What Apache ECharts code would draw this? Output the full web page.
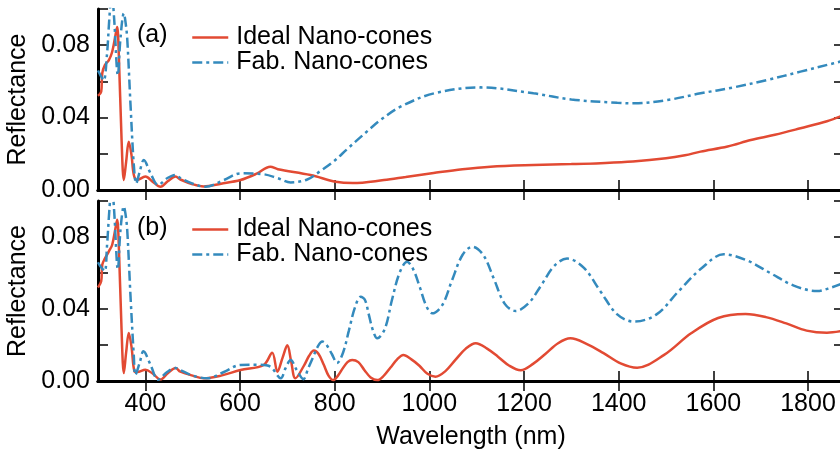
<!DOCTYPE html>
<html><head><meta charset="utf-8">
<script src="https://cdn.jsdelivr.net/npm/echarts@6/dist/echarts.min.js"></script>
<style>html,body{margin:0;padding:0;background:#fff}#c{width:840px;height:455px}</style>
</head><body><div id="c"></div>
<script>
// ---- data (wavelength nm, reflectance) ----
const seriesNames = ['Ideal Nano-cones', 'Fab. Nano-cones'];
const panelLabels = ['(a)', '(b)'];
const xTicks = [400, 600, 800, 1000, 1200, 1400, 1600, 1800];
const yTicks = [0, 0.02, 0.04, 0.06, 0.08, 0.1];
const yLabels = [0, 0.04, 0.08];

const idealA = [[300,0.052],[306.7,0.0543],[309,0.0645],[314.5,0.069],[323,0.0718],[330,0.0764],[337,0.0856],[340.5,0.090],[344,0.0746],[349.7,0.0286],[354.6,0.0055],[359.5,0.0157],[365,0.0267],[370.8,0.0193],[375.7,0.0083],[382.8,0.0055],[400,0.0074],[416,0.0045],[432,0.0018],[448,0.005],[463.7,0.0074],[474,0.0058],[500,0.0032],[523,0.002],[560,0.0035],[601,0.0055],[635,0.009],[664,0.0129],[680,0.0115],[749,0.0083],[802,0.0046],[838,0.0038],[904,0.0055],[950,0.0072],[1009,0.0094],[1070,0.0115],[1129,0.0129],[1220,0.0138],[1300,0.0143],[1362,0.0148],[1430,0.0157],[1500,0.0175],[1540,0.0192],[1573,0.0212],[1630,0.024],[1679,0.0276],[1730,0.0305],[1784,0.0341],[1840,0.038],[1876,0.0415]];

const fabA = [[300,0.066],[305,0.0635],[312,0.0605],[319,0.075],[324,0.095],[329,0.11],[334,0.095],[342,0.0635],[347.5,0.084],[354.6,0.0976],[358,0.093],[361.7,0.0838],[368.7,0.047],[375.7,0.0138],[380.7,0.0037],[388,0.01],[396.8,0.0166],[411,0.0092],[427,0.0028],[446,0.0065],[463.7,0.0083],[474,0.0066],[500,0.0035],[527,0.0018],[566,0.0055],[601,0.0092],[650,0.0087],[680,0.0065],[707,0.0042],[742,0.0058],[770,0.0105],[798,0.0158],[826,0.0225],[869,0.0325],[897,0.0387],[939,0.046],[1010,0.0534],[1108,0.0567],[1220,0.0534],[1300,0.050],[1397,0.0482],[1432,0.0479],[1503,0.0497],[1573,0.0534],[1643,0.0567],[1714,0.0608],[1784,0.0654],[1854,0.070],[1876,0.0715]];

const idealB = [[300,0.052],[306.7,0.0554],[309,0.0646],[314.5,0.068],[323,0.072],[330,0.0757],[337,0.085],[340.5,0.0896],[344,0.075],[349.7,0.029],[354.6,0.0044],[359.5,0.016],[365,0.0267],[370.8,0.019],[377,0.0054],[383,0.005],[400,0.0063],[416,0.004],[432,0.0008],[448,0.0045],[464,0.0072],[474,0.0052],[500,0.003],[523,0.0015],[560,0.003],[601,0.0061],[650,0.0089],[668,0.0157],[679,0.0052],[690,0.013],[700,0.0198],[708,0.011],[717,0.0015],[736,0.009],[746,0.014],[756,0.0169],[766,0.015],[777,0.009],[787,0.003],[797,0.0005],[807,0.003],[817,0.007],[827,0.0105],[837,0.0117],[850,0.0105],[863,0.006],[876,0.002],[890,0.0005],[904,0.003],[918,0.0075],[932,0.012],[945,0.0144],[962,0.012],[979,0.0085],[996,0.004],[1013,0.0024],[1034,0.0055],[1055,0.0117],[1077,0.018],[1098,0.021],[1122,0.018],[1145,0.0135],[1169,0.0085],[1193,0.006],[1219,0.0095],[1245,0.015],[1272,0.021],[1298,0.0237],[1333,0.0205],[1368,0.0155],[1404,0.0098],[1439,0.0074],[1496,0.0145],[1553,0.0265],[1610,0.035],[1668,0.0372],[1711,0.0355],[1754,0.032],[1797,0.028],[1840,0.0268],[1876,0.028]];

const fabB = [[300,0.066],[305,0.0637],[314,0.061],[319,0.075],[324,0.095],[329,0.11],[334,0.095],[342,0.062],[347.5,0.084],[354.6,0.097],[358,0.093],[361.7,0.084],[368.7,0.047],[375.7,0.0138],[379,0.0035],[388,0.01],[396,0.0165],[411,0.009],[427,0.0007],[446,0.005],[464,0.0072],[474,0.0061],[500,0.003],[531,0.0015],[566,0.005],[601,0.0089],[640,0.009],[664,0.008],[686,0.0015],[696,0.007],[707,0.0117],[720,0.006],[734,0.001],[744,0.007],[754,0.013],[764,0.019],[774,0.0219],[783,0.02],[794,0.015],[805,0.01],[818,0.016],[830,0.028],[843,0.041],[855,0.0468],[864,0.045],[872,0.037],[881,0.028],[890,0.0237],[906,0.029],[921,0.045],[937,0.06],[953,0.0663],[966,0.062],[980,0.052],[993,0.042],[1006,0.0376],[1027,0.042],[1048,0.056],[1070,0.07],[1091,0.0746],[1114,0.07],[1136,0.057],[1159,0.043],[1182,0.0389],[1209,0.043],[1236,0.053],[1264,0.064],[1291,0.068],[1326,0.063],[1362,0.0496],[1397,0.037],[1432,0.033],[1480,0.037],[1527,0.05],[1575,0.0626],[1622,0.0704],[1671,0.067],[1720,0.06],[1770,0.053],[1819,0.05],[1850,0.052],[1876,0.0545]];

// ---- style ----
const RED = '#E24A33', BLUE = '#348ABD';
const FONT = 'Liberation Sans';
const FS = 25;
const XMIN = 300, XMAX = 1876;
const grids = [
  {left: 98, right: -4, top: 9, height: 181, outerBoundsMode: 'none', containLabel: false},
  {left: 98, right: -4, top: 201, height: 180, outerBoundsMode: 'none', containLabel: false}
];

const chart = echarts.init(document.getElementById('c'), null, {renderer: 'canvas'});
const axLine = {show: true, lineStyle: {color: '#000', width: 3}};
const tick = (vals) => ({show: true, inside: true, length: 10, lineStyle: {color: '#000', width: 1.5}, customValues: vals});

const xAxes = [], yAxes = [];
for (let g = 0; g < 2; g++) {
  xAxes.push({type: 'value', gridIndex: g, min: XMIN, max: XMAX, position: 'bottom',
    axisLine: axLine, axisTick: tick(xTicks), splitLine: {show: false},
    axisLabel: {show: g === 1, customValues: xTicks, color: '#000', fontFamily: FONT, fontSize: FS, margin: 11,
      formatter: v => String(v)},
    name: g === 1 ? 'Wavelength (nm)' : '', nameLocation: 'middle', nameGap: 44,
    nameTextStyle: {color: '#000', fontFamily: FONT, fontSize: FS}});
  xAxes.push({type: 'value', gridIndex: g, min: XMIN, max: XMAX, position: 'top',
    axisLine: axLine, axisTick: tick(xTicks), splitLine: {show: false}, axisLabel: {show: false}});
  yAxes.push({type: 'value', gridIndex: g, min: 0, max: 0.1, position: 'left',
    axisLine: axLine, axisTick: tick(yTicks), splitLine: {show: false},
    axisLabel: {customValues: yLabels, color: '#000', fontFamily: FONT, fontSize: FS, margin: 8,
      formatter: v => v.toFixed(2)},
    name: 'Reflectance', nameLocation: 'middle', nameGap: 66,
    nameTextStyle: {color: '#000', fontFamily: FONT, fontSize: FS}});
  yAxes.push({type: 'value', gridIndex: g, min: 0, max: 0.1, position: 'right',
    axisLine: axLine, axisTick: tick(yTicks), splitLine: {show: false}, axisLabel: {show: false}});
}

const mk = (name, data, g, color, dashed) => ({
  type: 'line', name, data, xAxisIndex: g * 2, yAxisIndex: g * 2,
  showSymbol: false, symbol: 'none', smooth: 0.35, clip: true, animation: false,
  lineStyle: {color, width: 2.5, type: dashed ? [10, 4, 3, 4] : 'solid'},
  itemStyle: {color}
});

const legendBase = (top) => ({
  data: seriesNames, orient: 'vertical', left: 191, top, itemGap: 0, itemWidth: 36, itemHeight: 14,
  padding: 0, selectedMode: false,
  itemStyle: {opacity: 0, borderWidth: 0},
  lineStyle: {width: 2.5},
  textStyle: {color: '#000', fontFamily: FONT, fontSize: FS, padding: [0, 0, 0, 3]}
});

chart.setOption({
  animation: false,
  grid: grids,
  xAxis: xAxes,
  yAxis: yAxes,
  legend: [legendBase(25), legendBase(217)],
  graphic: [
    {type: 'text', left: 137, top: 23, style: {text: panelLabels[0], font: FS + 'px ' + FONT, fill: '#000'}},
    {type: 'text', left: 137, top: 216, style: {text: panelLabels[1], font: FS + 'px ' + FONT, fill: '#000'}}
  ],
  series: [
    mk(seriesNames[0], idealA, 0, RED, false),
    mk(seriesNames[1], fabA, 0, BLUE, true),
    mk(seriesNames[0], idealB, 1, RED, false),
    mk(seriesNames[1], fabB, 1, BLUE, true)
  ]
});
</script></body></html>
